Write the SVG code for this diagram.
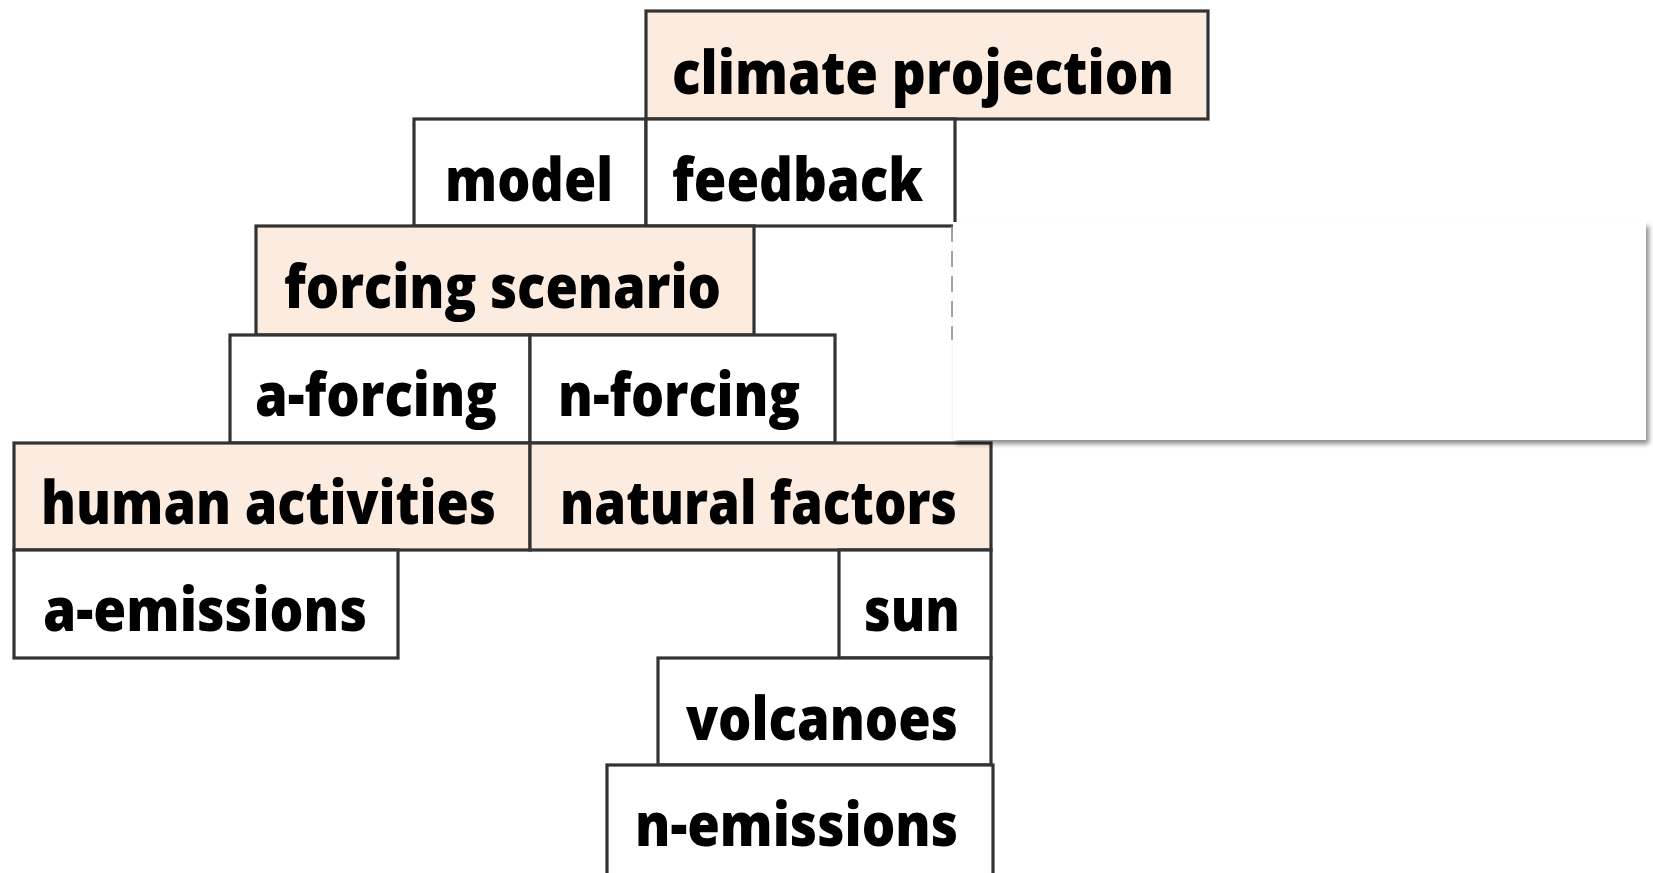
<svg xmlns="http://www.w3.org/2000/svg" width="1653" height="873" viewBox="0 0 1653 873">
  <defs>
    <style>
      .box { stroke: #333333; stroke-width: 3.2; }
      .plain { fill: #ffffff; }
      .warm { fill: #fcebdf; }
      .lbl { font-family: "Open Sans", "Liberation Sans", sans-serif; font-weight: 800; font-size: 60px; fill: #000000; }
    </style>
    <filter id="softShadow" x="-5%" y="-10%" width="110%" height="125%">
      <feGaussianBlur in="SourceAlpha" stdDeviation="2.5"/>
      <feOffset dx="3" dy="4" result="blur"/>
      <feComponentTransfer><feFuncA type="linear" slope="0.45"/></feComponentTransfer>
      <feMerge><feMergeNode/><feMergeNode in="SourceGraphic"/></feMerge>
    </filter>
  </defs>
  <rect width="1653" height="873" fill="#ffffff"/>

  <g id="climate-projection">
    <rect class="box warm" x="646" y="11" width="562" height="108"/>
    <text class="lbl" x="672" y="94" textLength="502" lengthAdjust="spacingAndGlyphs">climate projection</text>
  </g>
  <g id="model">
    <rect class="box plain" x="414" y="119" width="232" height="107"/>
    <text class="lbl" x="445" y="201" textLength="168" lengthAdjust="spacingAndGlyphs">model</text>
  </g>
  <g id="feedback">
    <rect class="box plain" x="646" y="119" width="309" height="107"/>
    <text class="lbl" x="672" y="201" textLength="251" lengthAdjust="spacingAndGlyphs">feedback</text>
  </g>
  <g id="forcing-scenario">
    <rect class="box warm" x="256" y="226" width="498" height="109"/>
    <text class="lbl" x="284" y="308" textLength="437" lengthAdjust="spacingAndGlyphs">forcing scenario</text>
  </g>
  <g id="a-forcing">
    <rect class="box plain" x="230" y="335" width="300" height="108"/>
    <text class="lbl" x="255" y="416" textLength="242" lengthAdjust="spacingAndGlyphs">a-forcing</text>
  </g>
  <g id="n-forcing">
    <rect class="box plain" x="530" y="335" width="305" height="108"/>
    <text class="lbl" x="558" y="416" textLength="242" lengthAdjust="spacingAndGlyphs">n-forcing</text>
  </g>
  <g id="human-activities">
    <rect class="box warm" x="14" y="443" width="516" height="107"/>
    <text class="lbl" x="41" y="524" textLength="455" lengthAdjust="spacingAndGlyphs">human activities</text>
  </g>
  <g id="natural-factors">
    <rect class="box warm" x="530" y="443" width="461" height="107"/>
    <text class="lbl" x="560" y="524" textLength="397" lengthAdjust="spacingAndGlyphs">natural factors</text>
  </g>
  <g id="a-emissions">
    <rect class="box plain" x="14" y="550" width="384" height="108"/>
    <text class="lbl" x="43" y="631" textLength="324" lengthAdjust="spacingAndGlyphs">a-emissions</text>
  </g>
  <g id="sun">
    <rect class="box plain" x="839" y="550" width="152" height="108"/>
    <text class="lbl" x="864" y="631" textLength="96" lengthAdjust="spacingAndGlyphs">sun</text>
  </g>
  <g id="volcanoes">
    <rect class="box plain" x="658" y="658" width="333" height="107"/>
    <text class="lbl" x="686" y="740" textLength="272" lengthAdjust="spacingAndGlyphs">volcanoes</text>
  </g>
  <g id="n-emissions">
    <rect class="box plain" x="607" y="765" width="386" height="112"/>
    <text class="lbl" x="635" y="846" textLength="323" lengthAdjust="spacingAndGlyphs">n-emissions</text>
  </g>

  <g id="connectors"></g>

  <!-- blank panel laid over the right side, with a faint broken edge on its left -->
  <g id="blank-panel">
    <line x1="952" y1="226" x2="952" y2="340" stroke="#8a8a8a" stroke-width="1.5" stroke-dasharray="16 9"/>
    <rect x="953" y="222" width="693" height="218" fill="#ffffff" filter="url(#softShadow)"/>
  </g>
</svg>
